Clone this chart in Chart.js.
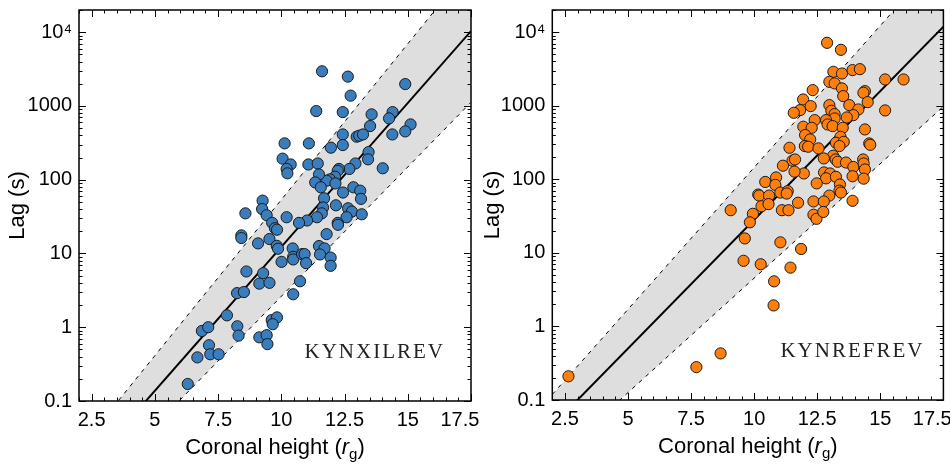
<!DOCTYPE html>
<html><head><meta charset="utf-8">
<script src="https://cdn.jsdelivr.net/npm/chart.js@4"></script>
<style>
html,body{margin:0;padding:0;background:#fff;width:950px;height:466px;overflow:hidden}
#w{position:relative;width:950px;height:466px}
#c1{position:absolute;left:0;top:0;width:495px;height:466px}
#c2{position:absolute;left:475px;top:0;width:475px;height:466px}
</style></head><body>
<div id="w"><canvas id="c1" width="495" height="466"></canvas><canvas id="c2" width="475" height="466"></canvas></div>
<script>
// ---------- tick labels / axis text ----------
const xTickValues = [2.5, 5, 7.5, 10, 12.5, 15, 17.5];
const xTickLabels = ['2.5', '5', '7.5', '10', '12.5', '15', '17.5'];
const yTickValues = [0.1, 1, 10, 100, 1000, 10000];
const yTickLabels = ['0.1', '1', '10', '100', '1000', '10\u2074'];
const xMin = 2, xMax = 17.5, yMin = 0.1, yMax = 20000;
const xMinorStep = 0.5, xMajorStep = 2.5;
const yTitle = 'Lag (s)';
const xTitleParts = [
  {text: 'Coronal height (', style: 'normal', sub: false},
  {text: 'r', style: 'italic', sub: false},
  {text: 'g', style: 'normal', sub: true},
  {text: ')', style: 'normal', sub: false}
];
const panelLabels = ['KYNXILREV', 'KYNREFREV'];

// ---------- KYNXILREV scatter ----------
const xilHeight = [14.90,12.74,11.38,12.43,13.57,14.40,14.26,15.11,13.51,14.90,14.39,12.43,12.98,13.08,13.23,12.43,11.96,11.09,10.13,10.05,10.37,10.21,10.24,11.07,11.44,13.45,13.43,12.93,12.69,14.01,12.28,12.23,12.12,11.92,11.79,11.49,11.34,11.56,12.14,11.69,12.44,12.85,13.12,13.15,12.16,12.64,12.79,12.58,13.18,11.65,11.60,11.41,11.02,10.70,10.21,9.26,9.24,9.42,9.64,9.75,9.83,8.58,8.42,8.42,9.08,9.53,9.82,9.87,10.45,10.47,10.47,10.82,10.92,10.98,10.01,11.49,11.71,11.53,11.95,11.95,12.23,12.24,11.79,8.62,9.28,9.13,9.53,10.74,10.47,8.25,8.52,7.85,9.62,9.83,9.66,8.26,8.31,9.13,9.42,9.45,6.86,7.11,7.14,7.19,7.52,6.68,11.61,12.63,6.30];
const xilLag = [1980,1380,853,826,769,826,678,562,534,452,411,411,383,395,411,295,272,311,311,193,161,140,122,161,166,237,189,166,140,143,140,132,110,101,97,118,92,79,89,56,67,79,71,55,45,41,37,31,34,42,35,31,28,26,31,52,40,33,26,22,21,35,17.6,16.2,13.7,15.7,12.7,11.6,11.7,9.0,8.3,9.8,9.8,7.4,7.7,12.6,11.7,9.7,8.8,6.8,26,24.5,18.3,5.7,5.4,3.9,4.0,4.2,2.8,2.9,3.0,1.45,1.25,1.36,1.10,1.03,0.77,0.73,0.78,0.59,0.89,1.0,0.57,0.43,0.43,0.39,2950,2500,0.17];

// ---------- KYNREFREV scatter ----------
const refHeight = [12.89,13.44,13.14,13.48,13.90,14.19,15.19,12.98,13.19,13.48,13.53,12.32,11.94,11.82,11.57,12.24,12.98,13.06,13.19,13.19,12.85,12.91,13.77,14.13,13.93,14.39,14.33,14.50,15.19,13.67,12.40,11.95,12.28,12.02,12.22,12.01,12.14,12.55,13.11,13.51,13.42,13.24,13.55,13.38,14.39,14.56,14.60,11.40,11.52,11.62,11.14,13.13,13.23,13.31,13.64,13.93,14.32,14.34,14.39,14.34,13.90,12.76,12.77,13.01,12.85,13.24,13.40,13.38,13.44,12.98,12.48,11.97,11.60,10.44,10.87,10.84,10.16,10.20,10.59,11.04,11.33,11.29,10.29,10.57,9.95,9.83,9.07,11.10,11.36,11.74,12.35,12.76,12.35,12.47,12.74,13.90,9.63,11.04,11.86,9.58,10.26,11.44,10.79,10.77,8.67,7.71,15.92,2.64];
const refLag = [7160,5750,2890,2740,3050,3140,2275,2110,2010,1718,1350,1630,1216,871,802,988,1019,853,769,671,637,556,1019,889,745,1578,1500,1119,863,693,637,518,501,399,348,283,277,263,528,501,378,314,323,283,476,307,294,268,179,186,153,209,186,173,169,147,186,164,136,102,110,192,124,120,103,108,85,70,66,60,88,120,127,92,106,84,62,60,60,66,69,64,43,46,34,26,38,38,38,48,50,50,33,29,36,51,15.7,13.9,11.3,7.8,7.0,6.3,4.1,1.93,0.43,0.28,2275,0.21];

// ---------- relation and scatter band (values at x = 2 and x = 17.5) ----------
const fitHeight = [2, 17.5];
const xilFit = [0.0093, 10350];
const xilUpper = [0.0222, 79400];
const xilLower = [0.0041, 1120];
const refFit = [0.0447, 11900];
const refUpper = [0.119, 113000];
const refLower = [0.0147, 977];

const FONT = "'Liberation Sans', Arial, Helvetica, sans-serif";

const framePlugin = {
  id: 'frameTicks',
  afterDatasetsDraw(chart, args, o) {
    const {ctx, chartArea: a, scales: {x, y}} = chart;
    ctx.save();
    ctx.strokeStyle = '#000';
    ctx.lineWidth = 1;
    ctx.beginPath();
    const nx = Math.round((xMax - xMin) / xMinorStep);
    for (let k = 0; k <= nx; k++) {
      const v = xMin + k * xMinorStep;
      const p = Math.round(x.getPixelForValue(v)) + 0.5;
      const major = Math.abs(v / xMajorStep - Math.round(v / xMajorStep)) < 1e-6;
      const L = major ? 7 : 3.5;
      ctx.moveTo(p, a.bottom); ctx.lineTo(p, a.bottom - L);
      ctx.moveTo(p, a.top); ctx.lineTo(p, a.top + L);
    }
    for (let e = -1; e <= 4; e++) {
      for (let m = 1; m <= 9; m++) {
        const v = m * Math.pow(10, e);
        if (v < yMin * 0.999 || v > yMax * 1.001) continue;
        const p = Math.round(y.getPixelForValue(v)) + 0.5;
        const L = m === 1 ? 7 : 3.5;
        ctx.moveTo(a.left, p); ctx.lineTo(a.left + L, p);
        ctx.moveTo(a.right, p); ctx.lineTo(a.right - L, p);
      }
    }
    ctx.stroke();
    ctx.lineWidth = 1.5;
    ctx.strokeRect(a.left, a.top, a.right - a.left, a.bottom - a.top);
    ctx.restore();
  },
  afterDraw(chart, args, o) {
    const {ctx, chartArea: a} = chart;
    ctx.save();
    ctx.fillStyle = '#000';
    ctx.textBaseline = 'alphabetic';
    ctx.textAlign = 'left';
    // x-axis title with italic r and subscript g
    const fs = 22, sfs = 15;
    const fontFor = p => (p.style === 'italic' ? 'italic ' : '') + (p.sub ? sfs : fs) + 'px ' + FONT;
    let total = 0;
    xTitleParts.forEach(p => { ctx.font = fontFor(p); total += ctx.measureText(p.text).width; });
    let cx = (a.left + a.right) / 2 - total / 2;
    const base = a.bottom + o.titleOffset;
    xTitleParts.forEach(p => {
      ctx.font = fontFor(p);
      ctx.fillText(p.text, cx, base + (p.sub ? 5 : 0));
      cx += ctx.measureText(p.text).width;
    });
    // panel label
    ctx.font = "21px 'Liberation Serif', 'Times New Roman', serif";
    try { ctx.letterSpacing = '2px'; } catch (e) {}
    ctx.fillStyle = '#222';
    ctx.textAlign = 'right';
    ctx.fillText(o.label, a.right - o.labelInset, a.bottom - 43);
    ctx.restore();
  }
};

function makeChart(id, cfg) {
  const pts = cfg.xs.map((v, i) => ({x: v, y: cfg.lags[i]}));
  const line = ys => fitHeight.map((v, i) => ({x: v, y: ys[i]}));
  const band = line(cfg.upper).concat(line(cfg.lower).reverse());
  return new Chart(document.getElementById(id), {
    type: 'scatter',
    data: {datasets: [
      {label: cfg.label, data: pts, backgroundColor: cfg.color, borderColor: '#1a1a1a', borderWidth: 1,
       pointRadius: 5.6, pointHoverRadius: 5.6, order: 0},
      {type: 'line', label: 'relation', data: line(cfg.fit), borderColor: '#000', borderWidth: 2,
       pointRadius: 0, fill: false, tension: 0, order: 1},
      {type: 'line', label: 'upper', data: line(cfg.upper), borderColor: '#000', borderWidth: 1,
       borderDash: [4, 5], pointRadius: 0, fill: false, tension: 0, order: 2},
      {type: 'line', label: 'lower', data: line(cfg.lower), borderColor: '#000', borderWidth: 1,
       borderDash: [4, 5], pointRadius: 0, fill: false, tension: 0, order: 3},
      {type: 'line', label: 'band', data: band, borderColor: 'rgba(0,0,0,0)', borderWidth: 0,
       backgroundColor: '#dedede', pointRadius: 0, fill: 'shape', tension: 0, order: 4}
    ]},
    options: {
      responsive: false,
      animation: false,
      events: [],
      layout: {padding: cfg.padding},
      plugins: {
        legend: {display: false}, tooltip: {enabled: false},
        frameTicks: {label: cfg.label, labelInset: cfg.labelInset, titleOffset: 53}
      },
      scales: {
        x: {
          type: 'linear', min: xMin, max: xMax,
          afterBuildTicks: s => { s.ticks = xTickValues.map(v => ({value: v})); },
          afterFit: s => { s.height = cfg.xAxisHeight; s.paddingLeft = 0; s.paddingRight = 0; },
          ticks: {
            callback: (v, i) => i === xTickLabels.length - 1 ? xTickLabels[i] + '\u2007\u2007' : xTickLabels[i],
            autoSkip: false, maxRotation: 0, minRotation: 0, padding: 7,
            color: '#000', font: {family: FONT, size: 20}
          },
          grid: {display: false, drawTicks: false},
          border: {display: false}
        },
        y: {
          type: 'logarithmic', min: yMin, max: yMax,
          afterBuildTicks: s => { s.ticks = yTickValues.map(v => ({value: v})); },
          afterFit: s => { s.width = cfg.yAxisWidth; s.paddingTop = 0; s.paddingBottom = 0; },
          ticks: {
            callback: (v, i) => yTickLabels[i],
            autoSkip: false, padding: 7,
            color: '#000', font: {family: FONT, size: 20}
          },
          grid: {display: false, drawTicks: false},
          border: {display: false},
          title: {display: true, text: yTitle, color: '#000', font: {family: FONT, size: 22},
                  padding: {top: 5, bottom: 0}}
        }
      }
    },
    plugins: [framePlugin]
  });
}

makeChart('c1', {
  xs: xilHeight, lags: xilLag, color: '#3a7dbc', label: panelLabels[0],
  fit: xilFit, upper: xilUpper, lower: xilLower,
  padding: {left: 0, top: 10, right: 24, bottom: 0},
  yAxisWidth: 79, xAxisHeight: 65, labelInset: 26
});
makeChart('c2', {
  xs: refHeight, lags: refLag, color: '#ff7f0e', label: panelLabels[1],
  fit: refFit, upper: refUpper, lower: refLower,
  padding: {left: 0, top: 10, right: 5.7, bottom: 0},
  yAxisWidth: 77.3, xAxisHeight: 66, labelInset: 19
});
</script>
</body></html>
